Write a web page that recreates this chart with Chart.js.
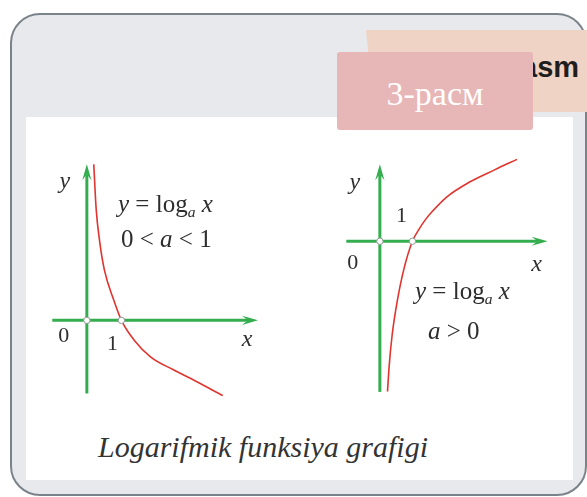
<!DOCTYPE html>
<html><head><meta charset="utf-8">
<script src="https://cdn.jsdelivr.net/npm/chart.js@4"></script>
<style>
html,body{margin:0;padding:0;background:#fff;width:587px;height:497px;overflow:hidden;position:relative;font-family:"Liberation Serif","Times New Roman",serif}
.abs{position:absolute}
#frame{left:10px;top:13px;width:577px;height:483px;box-sizing:border-box;border:2px solid #7b838a;border-radius:30px;background:#e8e9ec}
#peach{left:366px;top:30px;width:221px;height:82px;background:#efd4c5;clip-path:polygon(0 0,100% 0,100% 100%,8px 100%)}
#asm{left:521px;top:53px;font:bold 29px "Liberation Sans",Arial,sans-serif;line-height:29px;color:#1e1e1e;white-space:nowrap}
#pink{left:337px;top:52px;width:196px;height:78px;background:#e7b6b6;border-radius:3px;color:#fff;font-size:34px;line-height:78px;text-align:center;padding-top:3px;box-sizing:border-box}
#panel{left:26px;top:117px;width:547px;height:363px;background:#fff}
.f{font-size:25px;line-height:24px;color:#2e2e2e;white-space:nowrap}
.f sub{font-size:0.62em;vertical-align:-0.3em;font-style:italic;line-height:0}
#cap{left:98px;top:432px;font-style:italic;font-size:30px;line-height:30px;color:#333;white-space:nowrap}
canvas{position:absolute}
</style></head>
<body>
<div id="frame" class="abs"></div>
<div id="peach" class="abs"></div>
<div id="asm" class="abs">asm</div>
<div id="panel" class="abs"></div>
<div id="pink" class="abs">3-расм</div>
<canvas id="c1" width="252" height="270" style="left:30px;top:142px"></canvas>
<canvas id="c2" width="238" height="272" style="left:326px;top:138px"></canvas>
<div class="abs f" style="left:118px;top:192px"><i>y</i> = log<sub>a</sub> <i>x</i></div>
<div class="abs f" style="left:121px;top:227px">0 &lt; <i>a</i> &lt; 1</div>
<div class="abs f" style="left:415px;top:279px"><i>y</i> = log<sub>a</sub> <i>x</i></div>
<div class="abs f" style="left:428px;top:319px"><i>a</i> &gt; 0</div>
<div id="cap" class="abs">Logarifmik funksiya grafigi</div>
<script>
// ---- data ----
const leftCurveX  = [0.2, 0.27, 0.37, 0.51, 0.78, 1.0, 1.375, 1.85, 2.49, 3.14, 3.93];
const leftCurveY  = [4.5, 3.2, 2.28, 1.44, 0.58, 0, -0.58, -1.06, -1.42, -1.75, -2.17];
const rightCurveX = [0.235, 0.285, 0.38, 0.53, 0.73, 1.0, 1.21, 1.4, 1.6, 2.05, 2.74, 3.52, 4.21];
const rightCurveY = [-4.59, -3.82, -2.84, -1.85, -0.88, 0, 0.38, 0.66, 0.9, 1.35, 1.8, 2.18, 2.5];
const markedX = [0, 1];
const markedY = [0, 0];
const tickLabels = ['0', '1'];
const axisNames = ['x', 'y'];

const GREEN = '#34ad4e';

function arrow(ctx, tx, ty, dx, dy) {
  const L = 16, W = 4.6, N = 10;
  const px = -dy, py = dx;
  ctx.beginPath();
  ctx.moveTo(tx, ty);
  ctx.lineTo(tx - dx*L + px*W, ty - dy*L + py*W);
  ctx.lineTo(tx - dx*N, ty - dy*N);
  ctx.lineTo(tx - dx*L - px*W, ty - dy*L - py*W);
  ctx.closePath();
  ctx.fill();
}

const axesPlugin = {
  id: 'axes',
  beforeDatasetsDraw(chart, args, o) {
    const {ctx, scales: {x, y}} = chart;
    const xz = x.getPixelForValue(0), yz = y.getPixelForValue(0);
    const x0 = x.getPixelForValue(o.xFrom), x1 = x.getPixelForValue(o.xTo);
    const y0 = y.getPixelForValue(o.yFrom), y1 = y.getPixelForValue(o.yTo);
    ctx.save();
    ctx.strokeStyle = GREEN; ctx.fillStyle = GREEN; ctx.lineWidth = 3;
    ctx.beginPath(); ctx.moveTo(x0, yz); ctx.lineTo(x1 - 10, yz); ctx.stroke();
    ctx.beginPath(); ctx.moveTo(xz, y0); ctx.lineTo(xz, y1 + 10); ctx.stroke();
    arrow(ctx, x1, yz, 1, 0);
    arrow(ctx, xz, y1, 0, -1);
    ctx.restore();
  },
  afterDatasetsDraw(chart, args, o) {
    const {ctx, scales: {x, y}} = chart;
    const anchors = {
      o:   [x.getPixelForValue(markedX[0]), y.getPixelForValue(markedY[0])],
      one: [x.getPixelForValue(markedX[1]), y.getPixelForValue(markedY[1])],
      xt:  [x.getPixelForValue(o.xTo), y.getPixelForValue(0)],
      yt:  [x.getPixelForValue(0), y.getPixelForValue(o.yTo)]
    };
    const texts = {o: tickLabels[0], one: tickLabels[1], xt: axisNames[0], yt: axisNames[1]};
    ctx.save();
    ctx.fillStyle = '#2e2e2e';
    ctx.textAlign = 'center'; ctx.textBaseline = 'middle';
    o.labels.forEach(l => {
      const italic = (l.at === 'xt' || l.at === 'yt');
      ctx.font = (italic ? 'italic 24px' : '22px') + ' "Liberation Serif", serif';
      const a = anchors[l.at];
      ctx.fillText(texts[l.at], a[0] + l.dx, a[1] + l.dy);
    });
    ctx.restore();
  }
};

function makeChart(id, xs, ys, cfg) {
  const curve = xs.map((v, i) => ({x: v, y: ys[i]}));
  const marks = markedX.map((v, i) => ({x: v, y: markedY[i]}));
  new Chart(document.getElementById(id), {
    type: 'scatter',
    data: {datasets: [
      {data: marks, pointRadius: 3.2, pointBackgroundColor: '#fff', pointBorderColor: '#8e9a93', pointBorderWidth: 1, showLine: false},
      {data: curve, showLine: true, borderColor: '#e0342e', borderWidth: 1.6, pointRadius: 0, cubicInterpolationMode: 'monotone', fill: false}
    ]},
    options: {
      responsive: false, animation: false, events: [],
      layout: {padding: 0},
      plugins: {legend: {display: false}, tooltip: {enabled: false}, axes: cfg.axes},
      scales: {
        x: {type: 'linear', min: cfg.xMin, max: cfg.xMax, display: false},
        y: {type: 'linear', min: cfg.yMin, max: cfg.yMax, display: false}
      }
    },
    plugins: [axesPlugin]
  });
}

makeChart('c1', leftCurveX, leftCurveY, {
  xMin: -1.5, xMax: 5.5, yMin: -2.5, yMax: 5,
  axes: {xFrom: -1.0, xTo: 4.95, yFrom: -2.11, yTo: 4.5,
    labels: [{at: 'o', dx: -23, dy: 16}, {at: 'one', dx: -9, dy: 24}, {at: 'xt', dx: -11, dy: 19}, {at: 'yt', dx: -22, dy: 17}]}
});
makeChart('c2', rightCurveX, rightCurveY, {
  xMin: -1.5, xMax: 5.5, yMin: -5, yMax: 3,
  axes: {xFrom: -1.03, xTo: 5.15, yFrom: -4.6, yTo: 2.35,
    labels: [{at: 'o', dx: -27, dy: 22}, {at: 'one', dx: -11, dy: -25}, {at: 'xt', dx: -11, dy: 23}, {at: 'yt', dx: -25, dy: 18}]}
});
</script>
</body></html>
